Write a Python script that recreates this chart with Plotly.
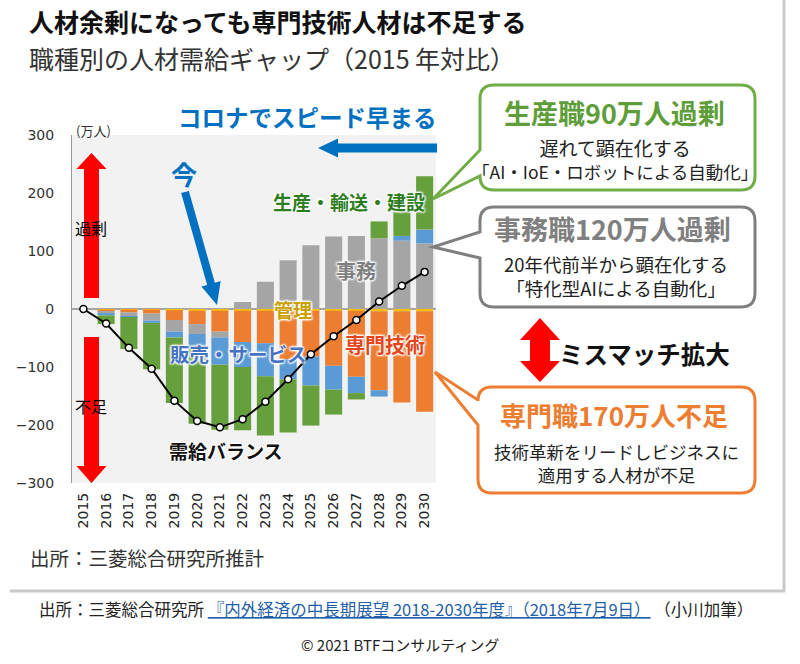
import math
import plotly.graph_objects as go

# ---------------- data (万人, vs 2015) ----------------
years = [str(y) for y in range(2015, 2031)]
kanri   = [0, -1, -1, -1, -2, -3, -3, -3, -3, -3, -3, -3, -3, -4, -4, -4]          # 管理
senmon  = [0, -4, -5, -7, -17, -23, -36, -54, -56, -84, -79, -95, -114, -136, -157, -173]  # 専門技術
jimu    = [0, -2, -7, -12, -20, -17, -10, 12, 47, 84, 110, 125, 126, 122, 118, 113]  # 事務
hanbai  = [0, -4, -1, -4, -10, -24, -47, -43, -57, -34, -50, -41, -28, -11, 8, 24]   # 販売・サービス
seisan  = [0, -15, -55, -80, -113, -131, -112, -109, -102, -92, -69, -43, -11, 29, 42, 92]  # 生産・輸送・建設
balance = [0, -25, -67, -103, -158, -193, -204, -190, -160, -121, -78, -47, -19, 13, 40, 64]  # 需給バランス
yticks = [-300, -200, -100, 0, 100, 200, 300]

C_KANRI, C_SENMON, C_JIMU, C_HANBAI, C_SEISAN = "#ffc000", "#ed7d31", "#a5a5a5", "#5b9bd5", "#66a03d"
JP = "Noto Sans CJK JP"

fig = go.Figure()
for name, vals, col in [("管理", kanri, C_KANRI), ("専門技術", senmon, C_SENMON),
                        ("事務", jimu, C_JIMU), ("販売・サービス", hanbai, C_HANBAI),
                        ("生産・輸送・建設", seisan, C_SEISAN)]:
    fig.add_trace(go.Bar(x=years, y=vals, name=name, marker=dict(color=col, line=dict(width=0))))
fig.add_trace(go.Scatter(x=years, y=balance, mode="lines+markers", name="需給バランス",
                         line=dict(color="black", width=2),
                         marker=dict(symbol="circle", size=7, color="white",
                                     line=dict(color="black", width=1.5))))

# ---------------- page pixel -> paper helpers ----------------
FW, FH = 800, 664
L, R, T, B = 72, 436, 135, 483   # plot area in page pixels
def px(x): return (x - L) / (R - L)
def py(y): return (B - y) / (B - T)

def path_of(pts, close=True):
    s = "M " + " L ".join(f"{px(x):.5f},{py(y):.5f}" for x, y in pts)
    return s + (" Z" if close else "")

def arrow_pts(x0, y0, x1, y1, sw, hw, hl):
    dx, dy = x1 - x0, y1 - y0
    d = math.hypot(dx, dy)
    ux, uy = dx / d, dy / d
    nx, ny = -uy, ux
    bx, by = x1 - ux * hl, y1 - uy * hl
    return [(x0 + nx * sw, y0 + ny * sw), (bx + nx * sw, by + ny * sw), (bx + nx * hw, by + ny * hw),
            (x1, y1), (bx - nx * hw, by - ny * hw), (bx - nx * sw, by - ny * sw), (x0 - nx * sw, y0 - ny * sw)]

def callout_path(x0, y0, x1, y1, r, ty0, ty1, tip):
    P = lambda x, y: f"{px(x):.5f},{py(y):.5f}"
    return (f"M {P(x0 + r, y0)} L {P(x1 - r, y0)} Q {P(x1, y0)} {P(x1, y0 + r)} "
            f"L {P(x1, y1 - r)} Q {P(x1, y1)} {P(x1 - r, y1)} L {P(x0 + r, y1)} "
            f"Q {P(x0, y1)} {P(x0, y1 - r)} L {P(x0, ty1)} L {P(*tip)} L {P(x0, ty0)} "
            f"L {P(x0, y0 + r)} Q {P(x0, y0)} {P(x0 + r, y0)} Z")

shapes = []
# card shadow
shapes.append(dict(type="line", xref="paper", yref="paper", x0=px(784), x1=px(784), y0=py(0), y1=py(591),
                   line=dict(color="#c9c9c9", width=3), layer="above"))
shapes.append(dict(type="line", xref="paper", yref="paper", x0=px(10), x1=px(785), y0=py(591), y1=py(591),
                   line=dict(color="#c9c9c9", width=3), layer="above"))
# red arrows
shapes.append(dict(type="path", xref="paper", yref="paper", path=path_of(arrow_pts(91.5, 298, 91.5, 153, 7.5, 15, 16)),
                   fillcolor="#ff0000", line=dict(width=0), layer="above"))
shapes.append(dict(type="path", xref="paper", yref="paper", path=path_of(arrow_pts(91.5, 337, 91.5, 483, 7.5, 15, 17)),
                   fillcolor="#ff0000", line=dict(width=0), layer="above"))
# blue arrows
shapes.append(dict(type="path", xref="paper", yref="paper", path=path_of(arrow_pts(185, 192, 217, 305, 4, 10, 22)),
                   fillcolor="#0070c0", line=dict(width=0), layer="above"))
shapes.append(dict(type="path", xref="paper", yref="paper", path=path_of(arrow_pts(437, 148, 318, 148, 4.5, 9.5, 20)),
                   fillcolor="#0070c0", line=dict(width=0), layer="above"))
# double red arrow
dbl = [(530, 340), (520, 340), (540, 318), (560, 340), (550, 340), (550, 361), (560, 361), (540, 382),
       (520, 361), (530, 361)]
shapes.append(dict(type="path", xref="paper", yref="paper", path=path_of(dbl),
                   fillcolor="#ff0000", line=dict(width=0), layer="above"))
# callouts
shapes.append(dict(type="path", xref="paper", yref="paper",
                   path=callout_path(480, 85, 755, 190, 14, 150, 176, (433, 199)),
                   fillcolor="white", line=dict(color="#70ad47", width=3), layer="above"))
shapes.append(dict(type="path", xref="paper", yref="paper",
                   path=callout_path(480, 207, 755, 307, 14, 232, 258, (433, 247)),
                   fillcolor="white", line=dict(color="#7f7f7f", width=3), layer="above"))
shapes.append(dict(type="path", xref="paper", yref="paper",
                   path=callout_path(478, 387, 755, 493, 14, 400, 425, (435, 372)),
                   fillcolor="white", line=dict(color="#ed7d31", width=3), layer="above"))

GLOW = "1px 1px 2px white, -1px -1px 2px white, 1px -1px 2px white, -1px 1px 2px white"
annotations = []
def ann(text, x, y, size, color="#222222", anchor="center", shadow=None, family=JP):
    f = dict(family=family, size=size, color=color)
    if shadow:
        f["shadow"] = shadow
    annotations.append(dict(text=text, xref="paper", yref="paper", x=px(x), y=py(y),
                            xanchor=anchor, yanchor="middle", showarrow=False, font=f))

ann("<b>人材余剰になっても専門技術人材は不足する</b>", 27, 21, 25, "#111111", "left")
ann("職種別の人材需給ギャップ（2015 年対比）", 27, 58, 25, "#333333", "left")
ann("(万人)", 93, 131, 13, "#333333")
ann("過剰", 91, 228, 16, "#000000")
ann("不足", 91, 406, 16, "#000000")
ann("<b>今</b>", 184, 173, 26, "#0070c0")
ann("<b>コロナでスピード早まる</b>", 307, 117, 23.5, "#0070c0")
ann("<b>生産・輸送・建設</b>", 349, 201, 19, "#2e7d1f", shadow=GLOW)
ann("<b>事務</b>", 356, 270, 20, "#7f7f7f", shadow=GLOW)
ann("<b>管理</b>", 293, 309, 19, "#c9a000", shadow=GLOW)
ann("<b>専門技術</b>", 385, 344, 20, "#e2471c", shadow=GLOW)
ann("<b>販売・サービス</b>", 238, 353, 19.5, "#4472c4", shadow=GLOW)
ann("<b>需給バランス</b>", 226, 450, 19, "#111111", shadow=GLOW)

ann("<b>生産職90万人過剰</b>", 614, 112, 27, "#5e9e3a")
ann("<span style='font-size:19px'>遅れて顕在化する</span><br>「AI・IoE・ロボットによる自動化」", 615, 159, 17.5, "#222222")
ann("<b>事務職120万人過剰</b>", 612, 228, 27, "#808080")
ann("20年代前半から顕在化する<br>「特化型AIによる自動化」", 616, 276, 18.5, "#222222")
ann("<b>ミスマッチ拡大</b>", 644, 353, 24.5, "#111111")
ann("<b>専門職170万人不足</b>", 614, 414, 26, "#ed7d31")
ann("技術革新をリードしビジネスに<br>適用する人材が不足", 616, 463, 17.5, "#222222")

ann("出所：三菱総合研究所推計", 28, 557, 19.5, "#333333", "left")
ann("出所：三菱総合研究所 <span style='color:#1f5fa8'><u>『内外経済の中長期展望 2018-2030年度』（2018年7月9日）</u></span> （小川加筆）",
    396, 609, 16.5, "#222222")
ann("© 2021 BTFコンサルティング", 400, 644, 15, "#222222")

fig.update_layout(
    width=FW, height=FH, barmode="relative", bargap=0.25, showlegend=False,
    paper_bgcolor="white", plot_bgcolor="#f2f2f2",
    margin=dict(l=L, r=FW - R, t=T, b=FH - B, pad=0, autoexpand=False),
    shapes=shapes, annotations=annotations,
    xaxis=dict(type="category", range=[-0.5, 15.5], tickangle=-90, showgrid=False, ticks="",
               showline=False, automargin=False, ticklabelstandoff=6,
               tickfont=dict(family="DejaVu Sans", size=14, color="#222222"), zeroline=False),
    yaxis=dict(range=[-300, 300], tickvals=yticks, showgrid=False, ticks="", automargin=False,
               showline=True, linecolor="#9a9a9a", linewidth=1,
               zeroline=True, zerolinecolor="#a6a6a6", zerolinewidth=2,
               ticklabelstandoff=14,
               tickfont=dict(family="DejaVu Sans", size=14, color="#333333")),
)

fig.write_html("out.html", config={"displayModeBar": False},
               post_script="document.body.style.margin='0px';")
